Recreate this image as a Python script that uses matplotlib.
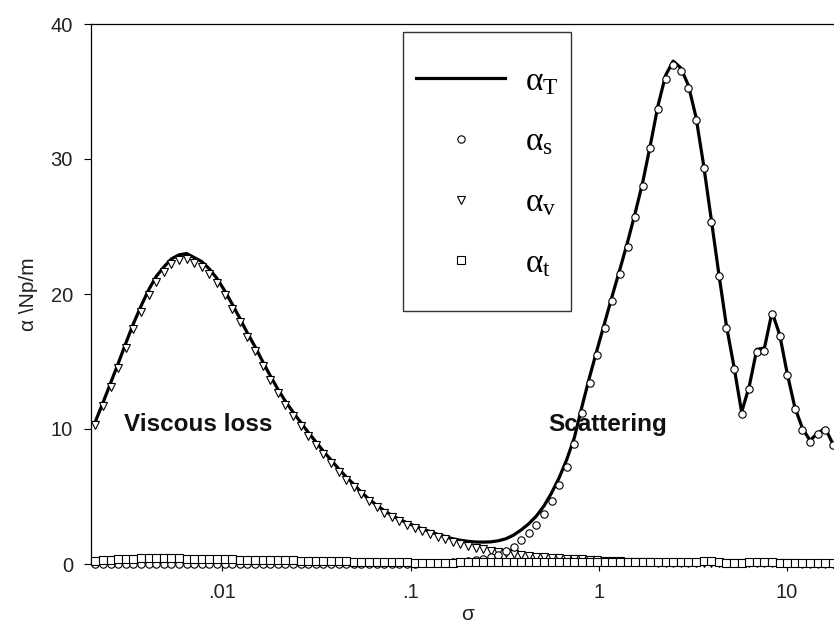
import numpy as np
import matplotlib
matplotlib.use("Agg")
import matplotlib.pyplot as plt
from matplotlib.lines import Line2D
from matplotlib.patches import Rectangle

# ---------------- data ----------------
# dimensionless frequency sigma: markers evenly spaced on the log axis
sigma = np.logspace(np.log10(0.00211), np.log10(17.6), 98)

alpha_v = [10.3, 11.7, 13.1, 14.5, 16.0, 17.4, 18.7, 19.9, 20.9, 21.6,
           22.2, 22.5, 22.6, 22.3, 22.0, 21.5, 20.8, 19.9, 18.9, 17.9,
           16.8, 15.8, 14.7, 13.65, 12.65, 11.8, 11.0, 10.25, 9.5, 8.8,
           8.15, 7.5, 6.85, 6.25, 5.7, 5.15, 4.65, 4.2, 3.8, 3.45,
           3.15, 2.9, 2.68, 2.46, 2.24, 2.03, 1.84, 1.65, 1.48, 1.33,
           1.2, 1.09, 0.98, 0.89, 0.79, 0.71, 0.64, 0.58, 0.53, 0.49,
           0.46, 0.43, 0.40, 0.37, 0.34, 0.31, 0.28, 0.25, 0.22, 0.20,
           0.18, 0.16, 0.14, 0.12, 0.11, 0.10, 0.09, 0.08, 0.08, 0.07,
           0.07, 0.06, 0.06, 0.06, 0.05, 0.05, 0.05, 0.05, 0.04, 0.04,
           0.04, 0.04, 0.04, 0.03, 0.03, 0.03, 0.03, 0.03]

alpha_s = [0.0, 0.0, 0.0, 0.0, 0.0, 0.0, 0.0, 0.0, 0.0, 0.0,
           0.0, 0.0, 0.0, 0.0, 0.0, 0.0, 0.0, 0.0, 0.0, 0.0,
           0.0, 0.0, 0.0, 0.0, 0.0, 0.0, 0.0, 0.0, 0.0, 0.0,
           0.0, 0.0, 0.0, 0.0, 0.0, 0.0, 0.0, 0.0, 0.01, 0.01,
           0.01, 0.02, 0.03, 0.04, 0.05, 0.07, 0.09, 0.12, 0.16, 0.21,
           0.28, 0.37, 0.50, 0.67, 0.93, 1.29, 1.76, 2.28, 2.90, 3.69,
           4.68, 5.84, 7.22, 8.87, 11.2, 13.4, 15.45, 17.5, 19.5, 21.5,
           23.5, 25.7, 28.0, 30.8, 33.7, 35.95, 37.0, 36.55, 35.25, 32.9,
           29.3, 25.3, 21.3, 17.5, 14.45, 11.1, 13.0, 15.7, 15.8, 18.5,
           16.9, 14.0, 11.5, 9.95, 9.05, 9.6, 9.95, 8.8]

alpha_t = [0.22, 0.27, 0.31, 0.34, 0.37, 0.39, 0.41, 0.42, 0.42, 0.42,
           0.42, 0.41, 0.40, 0.39, 0.38, 0.37, 0.36, 0.35, 0.34, 0.33,
           0.32, 0.31, 0.30, 0.29, 0.28, 0.27, 0.26, 0.25, 0.24, 0.23,
           0.22, 0.21, 0.20, 0.19, 0.18, 0.17, 0.16, 0.15, 0.14, 0.13,
           0.12, 0.12, 0.11, 0.11, 0.10, 0.10, 0.10, 0.10, 0.12, 0.14,
           0.15, 0.16, 0.16, 0.16, 0.15, 0.14, 0.12, 0.12, 0.12, 0.12,
           0.12, 0.12, 0.12, 0.12, 0.12, 0.14, 0.16, 0.17, 0.17, 0.17,
           0.17, 0.17, 0.16, 0.15, 0.14, 0.14, 0.14, 0.15, 0.16, 0.18,
           0.20, 0.20, 0.12, 0.10, 0.10, 0.10, 0.12, 0.14, 0.14, 0.12,
           0.08, 0.06, 0.06, 0.06, 0.06, 0.06, 0.06, 0.06]

alpha_T = [10.55, 11.95, 13.4, 14.85, 16.35, 17.8, 19.1, 20.3, 21.3, 22.0,
           22.6, 22.9, 23.0, 22.7, 22.4, 21.85, 21.15, 20.25, 19.25, 18.2,
           17.1, 16.1, 15.0, 13.95, 12.95, 12.05, 11.25, 10.5, 9.75, 9.05,
           8.35, 7.7, 7.05, 6.45, 5.9, 5.3, 4.8, 4.35, 3.95, 3.6,
           3.3, 3.05, 2.82, 2.6, 2.4, 2.2, 2.03, 1.87, 1.76, 1.68,
           1.63, 1.62, 1.64, 1.72, 1.87, 2.14, 2.52, 2.98, 3.55, 4.3,
           5.26, 6.39, 7.74, 9.36, 11.66, 13.85, 15.9, 17.9, 19.9, 21.85,
           23.85, 26.0, 28.3, 31.05, 33.95, 36.2, 37.25, 36.75, 35.45, 33.1,
           29.55, 25.55, 21.5, 17.65, 14.6, 11.25, 13.15, 15.9, 16.0, 18.65,
           17.0, 14.1, 11.6, 10.05, 9.15, 9.7, 10.05, 8.9]

x_ticks = [0.01, 0.1, 1, 10]
x_tick_labels = [".01", ".1", "1", "10"]
y_ticks = [0, 10, 20, 30, 40]

# ---------------- figure ----------------
plt.rcParams["mathtext.fontset"] = "custom"
plt.rcParams["mathtext.rm"] = "Liberation Serif"
plt.rcParams["mathtext.it"] = "Liberation Serif"
plt.rcParams["mathtext.bf"] = "Liberation Serif:bold"

fig = plt.figure(figsize=(8.34, 6.28), dpi=100)
# right spine falls just outside the picture (chart is cropped there)
ax = fig.add_axes([91 / 834, 64 / 628, (843.3 - 91) / 834, (564 - 24) / 628])

ax.set_xscale("log")
ax.set_xlim(0.002, 20)
ax.set_ylim(0, 40)

mk = dict(linestyle="none", markerfacecolor="white", markeredgecolor="black",
          markeredgewidth=0.8)
ax.plot(sigma, alpha_T, color="black", lw=2.3, zorder=2, solid_capstyle="round")
ax.plot(sigma, alpha_v, marker="v", markersize=6.0, zorder=3, clip_on=False, **mk)
ax.plot(sigma, alpha_s, marker="o", markersize=5.3, zorder=4, clip_on=False, **mk)
ax.plot(sigma, alpha_t, marker="s", markersize=5.6, zorder=5, clip_on=False, **mk)

ax.set_xticks(x_ticks)
ax.set_xticklabels(x_tick_labels)
ax.xaxis.set_minor_locator(matplotlib.ticker.NullLocator())
ax.set_yticks(y_ticks)

for lab in ax.get_xticklabels() + ax.get_yticklabels():
    lab.set_fontfamily("Liberation Sans")
    lab.set_fontsize(14.5)
    lab.set_color("#222222")
ax.tick_params(axis="both", direction="out", length=5, width=0.8, color="black")
ax.tick_params(axis="x", pad=9)
ax.tick_params(axis="y", pad=8)

for side in ["left", "bottom", "top", "right"]:
    ax.spines[side].set_linewidth(0.9)
    ax.spines[side].set_color("black")

ax.set_ylabel("α \\Np/m", fontfamily="Liberation Sans", fontsize=15, color="#222222")
ax.yaxis.set_label_coords(-0.07, 0.5)
ax.set_xlabel("σ", fontfamily="Liberation Sans", fontsize=15, color="#222222")
ax.xaxis.set_label_coords(0.5, -0.075)

ax.text(0.0074, 10.3, "Viscous loss", fontfamily="Liberation Sans",
        fontweight="bold", fontsize=17.5, ha="center", va="center", color="#111111")
ax.text(1.12, 10.3, "Scattering", fontfamily="Liberation Sans",
        fontweight="bold", fontsize=17.5, ha="center", va="center", color="#111111")

# legend (frame drawn separately)
handles = [
    Line2D([], [], color="black", lw=2.3),
    Line2D([], [], marker="o", markersize=5.3, **mk),
    Line2D([], [], marker="v", markersize=6.0, **mk),
    Line2D([], [], marker="s", markersize=5.6, **mk),
]
labels = [r"$\alpha_{\mathrm{T}}$", r"$\alpha_{\mathrm{s}}$",
          r"$\alpha_{\mathrm{v}}$", r"$\alpha_{\mathrm{t}}$"]
leg = fig.legend(handles, labels, loc="upper left",
                 bbox_to_anchor=(416 / 834, 1 - 64 / 628), bbox_transform=fig.transFigure,
                 frameon=False, borderpad=0, borderaxespad=0, fontsize=24,
                 handlelength=2.67, handletextpad=0.6, labelspacing=0.83, numpoints=1)
fig.patches.append(Rectangle((403 / 834, 1 - 311 / 628), (571 - 403) / 834, (311 - 32) / 628,
                             transform=fig.transFigure, facecolor="white",
                             edgecolor="#333333", linewidth=1.0, zorder=0.5))

fig.savefig("out.png", dpi=100)
